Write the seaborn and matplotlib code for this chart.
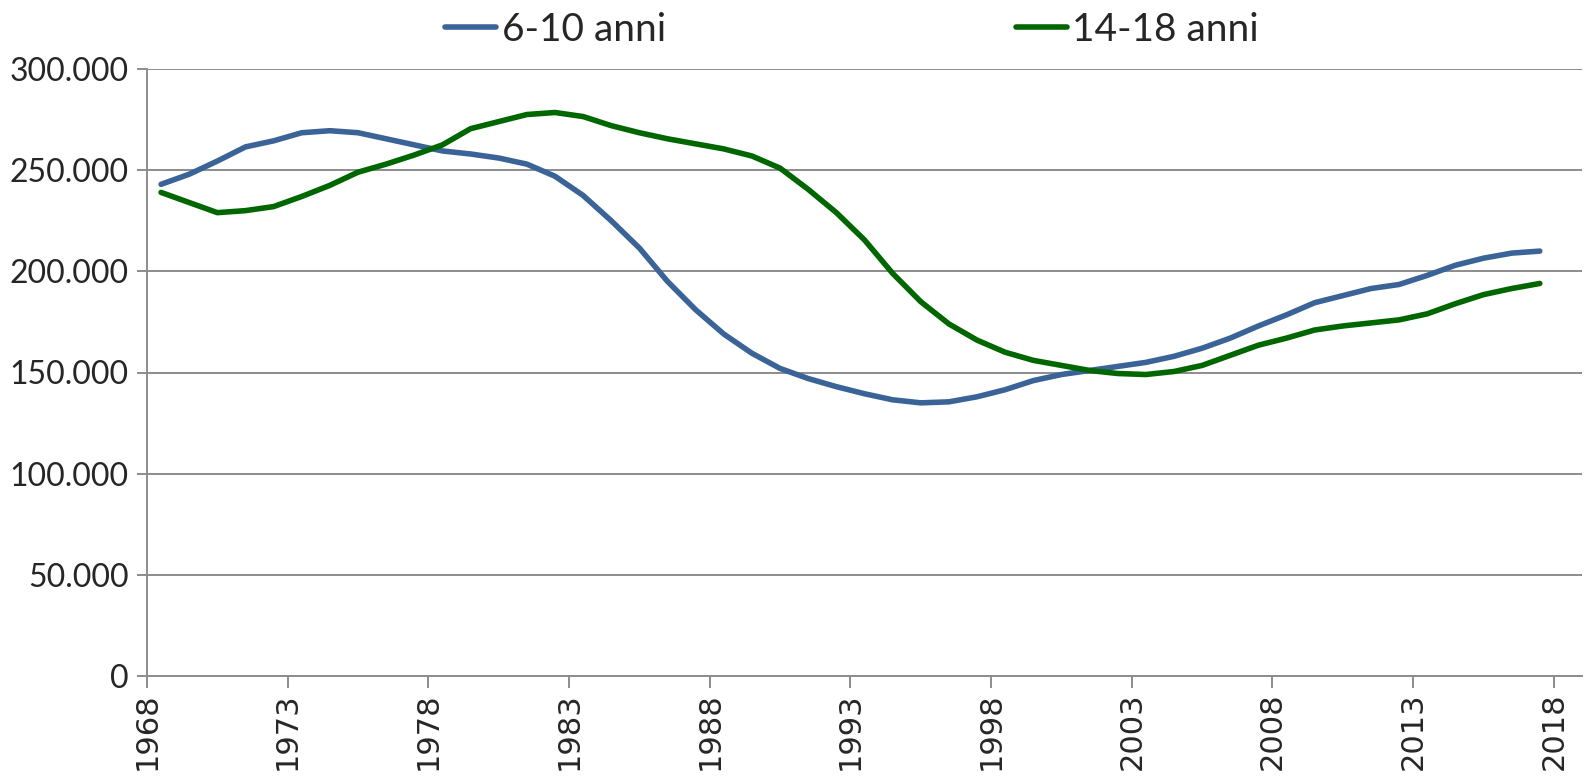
"""Andamento della popolazione scolastica per fascia d'età, 1968-2017."""

import matplotlib
matplotlib.use("Agg")
import matplotlib.pyplot as plt
import matplotlib.ticker as mticker
import seaborn as sns
import pandas as pd
import numpy as np

years = list(range(1968, 2018))

eta_6_10 = [
    243000, 248000, 254500, 261500, 264500, 268500, 269500, 268500, 265500, 262500,
    259500, 258000, 256000, 253000, 247000, 237500, 225000, 211500, 195000, 181000,
    169000, 159500, 152000, 147000, 143000, 139500, 136500, 135000, 135500, 138000,
    141500, 146000, 149000, 151000, 153000, 155000, 158000, 162000, 167000, 173000,
    178500, 184500, 188000, 191500, 193500, 198000, 203000, 206500, 209000, 210000,
]

eta_14_18 = [
    239000, 234000, 229000, 230000, 232000, 237000, 242500, 249000, 253000, 257500,
    262500, 270500, 274000, 277500, 278500, 276500, 272000, 268500, 265500, 263000,
    260500, 257000, 251000, 240500, 229000, 215500, 199000, 185000, 174000, 166000,
    160000, 156000, 153500, 151000, 149500, 149000, 150500, 153500, 158500, 163500,
    167000, 171000, 173000, 174500, 176000, 179000, 184000, 188500, 191500, 194000,
]

series_names = ["6-10 anni", "14-18 anni"]
series_colors = ["#3A6497", "#006600"]

y_ticks = [0, 50000, 100000, 150000, 200000, 250000, 300000]
x_ticks = list(range(1968, 2019, 5))
x_labels = [str(y) for y in x_ticks]

sns.set_style("white")
plt.rcParams["font.family"] = ["Lato", "DejaVu Sans"]

# long format for seaborn; points sit in the middle of each year
df = pd.DataFrame({
    "anno": np.array(years * 2) + 0.5,
    "valore": eta_6_10 + eta_14_18,
    "serie": [series_names[0]] * len(years) + [series_names[1]] * len(years),
})

fig = plt.figure(figsize=(15.87, 7.76), dpi=100)
ax = fig.add_axes([147 / 1587, 100 / 776, (1582 - 147) / 1587, (676 - 69) / 776])

sns.lineplot(data=df, x="anno", y="valore", hue="serie", hue_order=series_names,
             palette=series_colors, linewidth=4.0, ax=ax, legend=True)

ax.set_xlim(1968, 2019)
ax.set_ylim(0, 300000)
ax.set_yticks(y_ticks)
ax.set_xticks(x_ticks, labels=x_labels, fontfamily="DejaVu Sans",
              fontsize=22, rotation=90)
ax.yaxis.set_major_formatter(
    mticker.FuncFormatter(lambda v, p: f"{int(v):,}".replace(",", ".")))

ax.grid(axis="y", color="#8C8C8C", linewidth=1.4)
ax.set_axisbelow(True)
for side in ["top", "right"]:
    ax.spines[side].set_visible(False)
for side in ["left", "bottom"]:
    ax.spines[side].set_color("#8C8C8C")
    ax.spines[side].set_linewidth(1.4)

ax.tick_params(axis="y", which="major", left=True, length=7, width=1.4,
               color="#8C8C8C", labelsize=23, pad=6)
ax.tick_params(axis="x", which="major", bottom=True, length=8.6, width=1.4,
               color="#8C8C8C", pad=3)

ax.set_xlabel("")
ax.set_ylabel("")

handles, labels = ax.get_legend_handles_labels()
ax.get_legend().remove()
fig.legend(handles, labels, loc="upper center", bbox_to_anchor=(0.537, 1.03),
           ncol=2, frameon=False, fontsize=28, handlelength=1.3,
           handletextpad=0.15, columnspacing=9.0)

fig.savefig("out.png", dpi=100)
plt.close(fig)
